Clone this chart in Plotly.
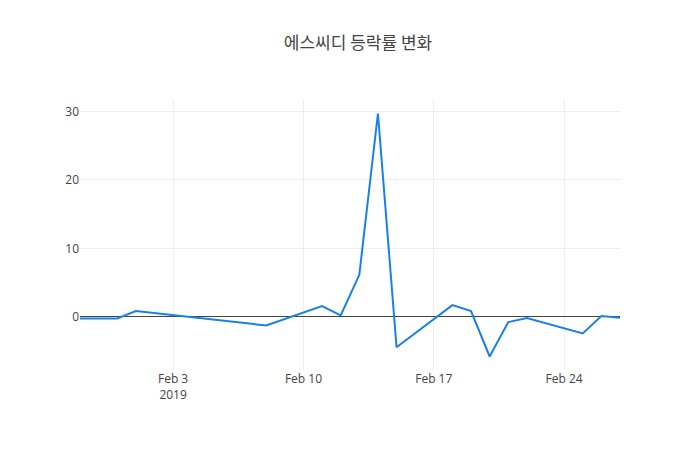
import pandas as pd
import plotly.graph_objects as go

dates = ['2019-01-29', '2019-01-30', '2019-01-31', '2019-02-01', '2019-02-08',
         '2019-02-11', '2019-02-12', '2019-02-13', '2019-02-14', '2019-02-15',
         '2019-02-18', '2019-02-19', '2019-02-20', '2019-02-21', '2019-02-22',
         '2019-02-25', '2019-02-26', '2019-02-27']
change_rate = [-0.25, -0.25, -0.25, 0.84, -1.27,
               1.57, 0.2, 6.13, 29.7, -4.44,
               1.71, 0.84, -5.8, -0.78, -0.19,
               -2.43, 0.1, -0.15]

df = pd.DataFrame({'date': pd.to_datetime(dates), 'rate': change_rate})

fig = go.Figure(go.Scatter(x=df['date'], y=df['rate'], mode='lines',
                           line=dict(color='rgb(26,128,230)', width=2)))

# page body adds 8px, so margins are shifted to keep the plot where it belongs
fig.update_layout(
    template='none',
    width=700, height=450,
    title=dict(text='에스씨디 등락률 변화', x=0.5, y=0.935,
               font=dict(family='Noto Sans CJK KR', size=17, color='#444')),
    font=dict(family='Open Sans, Noto Sans CJK KR, sans-serif', size=12, color='#444'),
    plot_bgcolor='white',
    paper_bgcolor='white',
    margin=dict(l=72, r=88, t=92, b=88),
    showlegend=False,
    xaxis=dict(showgrid=True, gridcolor='#eee', zeroline=False, showline=False,
               ticks=''),
    yaxis=dict(showgrid=True, gridcolor='#eee', zeroline=True, zerolinecolor='#444',
               zerolinewidth=1, showline=False, ticks=''),
)

fig.write_html("out.html")
